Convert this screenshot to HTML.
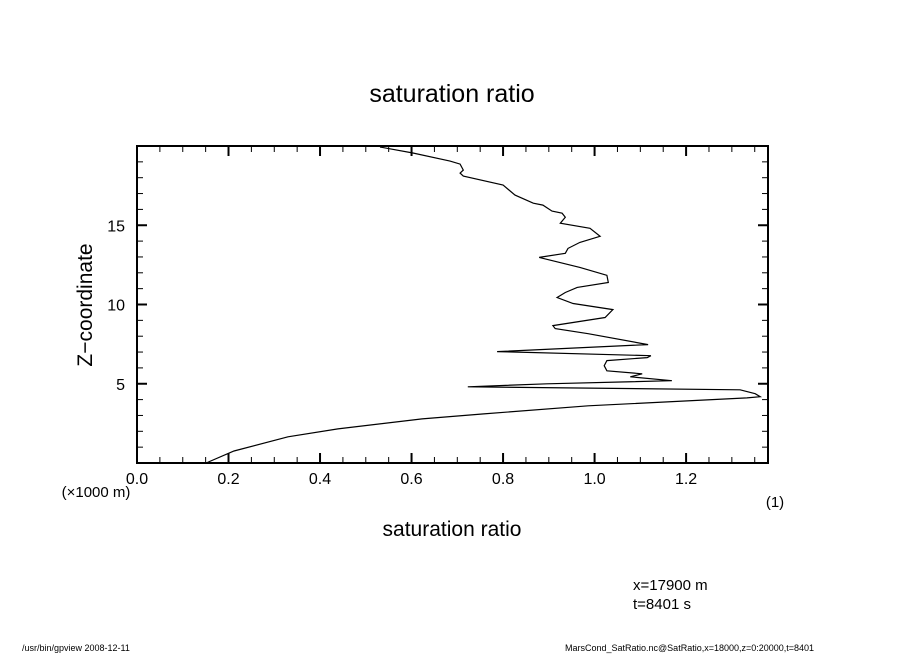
<!DOCTYPE html>
<html><head><meta charset="utf-8"><style>
body{margin:0;background:#fff;}
svg{display:block;font-family:"Liberation Sans",sans-serif;}
</style></head><body>
<svg id="chart" width="904" height="654" viewBox="0 0 904 654">
<text x="452" y="102" font-size="25" text-anchor="middle">saturation ratio</text>
<g id="ticks"></g>
<g id="series"></g>
<rect x="137" y="146" width="631" height="317" fill="none" stroke="#000" stroke-width="2"/>
<text x="96" y="497" font-size="15" text-anchor="middle">(×1000 m)</text>
<text x="775" y="507" font-size="15" text-anchor="middle">(1)</text>
<text x="452" y="536" font-size="21" text-anchor="middle">saturation ratio</text>
<text transform="translate(92,305) rotate(-90)" font-size="21" text-anchor="middle">Z−coordinate</text>
<text x="633" y="590" font-size="15">x=17900 m</text>
<text x="633" y="609" font-size="15">t=8401 s</text>
<text x="22" y="651" font-size="9">/usr/bin/gpview   2008-12-11</text>
<text x="565" y="651" font-size="9">MarsCond_SatRatio.nc@SatRatio,x=18000,z=0:20000,t=8401</text>
</svg>
<script>
const zValues=[19.94,19.56,19.05,18.86,18.48,18.29,18.10,17.53,16.90,16.39,16.27,15.89,15.76,15.51,15.13,14.81,14.30,13.92,13.54,13.23,12.97,12.34,11.84,11.39,11.08,10.76,10.44,10.06,9.68,9.18,8.67,8.48,8.16,7.47,7.03,6.77,6.65,6.46,6.14,5.82,5.63,5.44,5.19,5.00,4.81,4.62,4.37,4.18,4.11,3.61,3.10,2.78,2.15,1.65,0.76,0.0];
const ratioValues=[0.531,0.603,0.684,0.706,0.713,0.706,0.713,0.800,0.826,0.866,0.887,0.907,0.929,0.936,0.925,0.990,1.012,0.968,0.942,0.936,0.879,0.968,1.027,1.030,0.962,0.936,0.918,0.953,1.040,1.023,0.909,0.914,0.986,1.117,0.787,1.123,1.115,1.027,1.021,1.027,1.104,1.078,1.169,0.896,0.723,1.318,1.351,1.362,1.333,0.986,0.758,0.623,0.439,0.330,0.212,0.151];
const xTickLabels=["0.0","0.2","0.4","0.6","0.8","1.0","1.2"];
const yTickLabels=["5","10","15"];
const X0=137,X1=768,Y0=463,Y1=146,XMAX=1.379,YMAX=20;
const sx=v=>X0+v/XMAX*(X1-X0);
const sy=v=>Y0-v/YMAX*(Y0-Y1);
const NS="http://www.w3.org/2000/svg";
const tg=document.getElementById('ticks');
function ln(x1,y1,x2,y2,w){const l=document.createElementNS(NS,'line');l.setAttribute('x1',x1);l.setAttribute('y1',y1);l.setAttribute('x2',x2);l.setAttribute('y2',y2);l.setAttribute('stroke','#000');l.setAttribute('stroke-width',w);


tg.appendChild(l);}
function tx(x,y,s,anchor,name){const t=document.createElementNS(NS,'text');t.setAttribute('x',x);t.setAttribute('y',y);t.setAttribute('font-size','16');t.setAttribute('text-anchor',anchor);t.textContent=s;


tg.appendChild(t);}
for(let i=0;i*0.05<=XMAX+1e-9;i++){const v=i*0.05,x=sx(v),maj=i%4===0,L=maj?10:6;ln(x,Y0,x,Y0-L,maj?2:1);ln(x,Y1,x,Y1+L,maj?2:1);}
xTickLabels.forEach(s=>tx(sx(parseFloat(s)),484,s,'middle','x-tick-label'));
for(let v=0;v<=YMAX;v++){const y=sy(v),maj=v%5===0,L=maj?10:6;ln(X0,y,X0+L,y,maj?2:1);ln(X1,y,X1-L,y,maj?2:1);}
yTickLabels.forEach(s=>tx(125,sy(parseFloat(s))+6,s,'end','y-tick-label'));
const p=document.createElementNS(NS,'polyline');
p.setAttribute('points',zValues.map((z,i)=>sx(ratioValues[i]).toFixed(1)+','+sy(z).toFixed(1)).join(' '));
p.setAttribute('fill','none');p.setAttribute('stroke','#000');p.setAttribute('stroke-width','1.2');


document.getElementById('series').appendChild(p);
</script>
</body></html>
